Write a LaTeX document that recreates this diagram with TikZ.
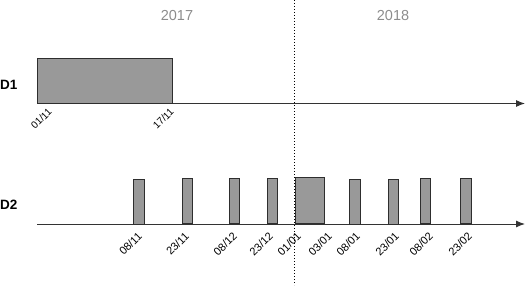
\documentclass[tikz,border=0pt]{standalone}
\usepackage{fontspec}
\setmainfont{Liberation Sans}
\usetikzlibrary{arrows.meta}
\definecolor{barfill}{HTML}{999999}
\definecolor{bardraw}{HTML}{2E2E2E}
\definecolor{yeargray}{HTML}{8C8C8C}
\tikzset{
  bar/.style={draw=bardraw, line width=0.9pt, fill=barfill, inner sep=0pt, anchor=south west},
  axisline/.style={draw=black!80, line width=1pt},
  datelbl/.style={font=\fontsize{11}{12}\selectfont, rotate=45, anchor=east, inner sep=0pt},
  datelblsmall/.style={font=\fontsize{10}{11}\selectfont, rotate=45, anchor=east, inner sep=0pt},
  rowlbl/.style={font=\bfseries\fontsize{13.5}{15}\selectfont, anchor=west, inner sep=0pt},
  yearlbl/.style={font=\fontsize{14.5}{16}\selectfont, text=yeargray},
  divider/.style={dotted, line width=1pt, black}
}
\begin{document}
\begin{tikzpicture}[x=1pt,y=-1pt]
\useasboundingbox (0,0) rectangle (526,286);
% years
\node[yearlbl] (y17) at (177,16) {2017};
\node[yearlbl] (y18) at (393,16) {2018};
% divider
\coordinate (dtop) at (294,0);
\coordinate (dbot) at (294,285);
\draw[divider] (dtop) -- (dbot);
% row labels
\node[rowlbl] (d1) at (0,85) {D1};
\node[rowlbl] (d2) at (0,205) {D2};
% D1 axis
\coordinate (a1s) at (37,103.5);
\coordinate (a1e) at (525,103.5);
\draw[axisline, -{Latex[length=9pt,width=7pt]}] (a1s) -- (a1e);
\node[bar, minimum width=135pt, minimum height=45pt] (r1) at (37,103.5) {};
\node[datelblsmall] (l0111) at (50,110) {01/11};
\node[datelblsmall] (l1711) at (172,110) {17/11};
% D2 axis
\coordinate (a2s) at (37,224);
\coordinate (a2e) at (525,224);
\draw[axisline, -{Latex[length=9pt,width=7pt]}] (a2s) -- (a2e);
\node[bar, minimum width=10.5pt, minimum height=45pt] (b1) at (133,224.5) {};
\node[bar, minimum width=10pt, minimum height=45pt] (b2) at (181.5,224) {};
\node[bar, minimum width=10pt, minimum height=45pt] (b3) at (229,224) {};
\node[bar, minimum width=10pt, minimum height=45pt] (b4) at (267,224) {};
\node[bar, minimum width=29pt, minimum height=46pt] (b5) at (295,224) {};
\node[bar, minimum width=11pt, minimum height=45pt] (b6) at (349,224.5) {};
\node[bar, minimum width=10pt, minimum height=45pt] (b7) at (388,224.5) {};
\node[bar, minimum width=10pt, minimum height=45pt] (b8) at (419.5,224) {};
\node[bar, minimum width=11pt, minimum height=45pt] (b9) at (460,224) {};
% D2 labels
\node[datelbl] (t1) at (140,234) {08/11};
\node[datelbl] (t2) at (187,234) {23/11};
\node[datelbl] (t3) at (235,234) {08/12};
\node[datelbl] (t4) at (271,234) {23/12};
\node[datelbl] (t5) at (299,234) {01/01};
\node[datelbl] (t6) at (330,234) {03/01};
\node[datelbl] (t7) at (358,234) {08/01};
\node[datelbl] (t8) at (397,234) {23/01};
\node[datelbl] (t9) at (431,234) {08/02};
\node[datelbl] (t10) at (470,234) {23/02};
\end{tikzpicture}
\end{document}
